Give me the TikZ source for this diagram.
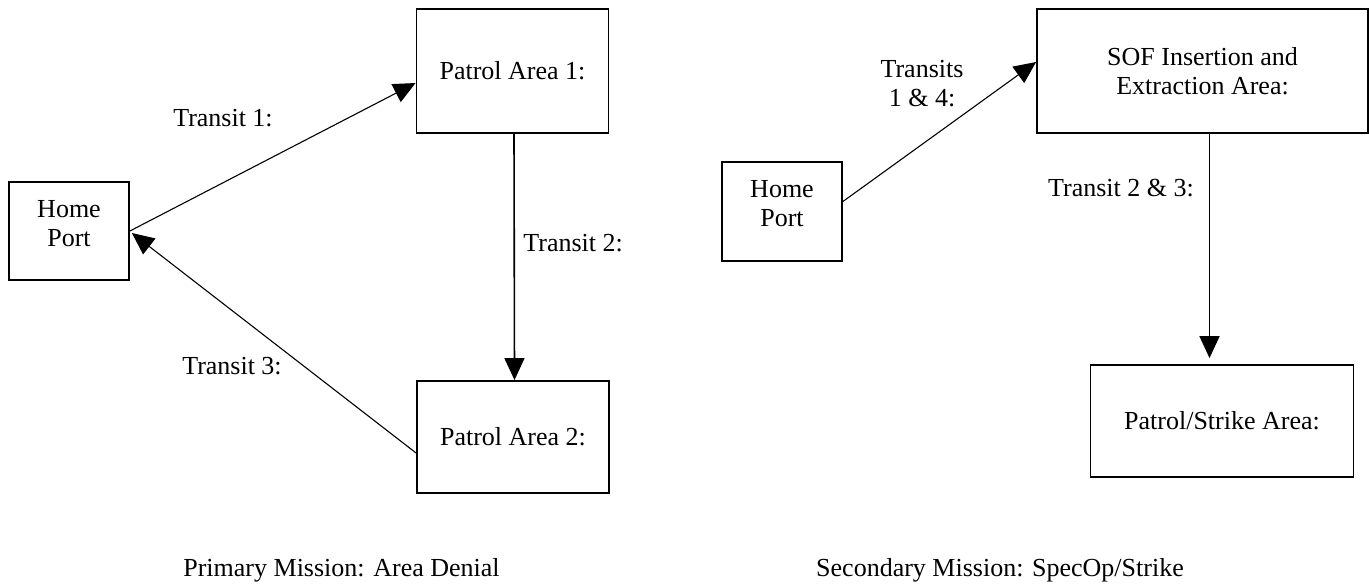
\documentclass[tikz,border=0pt]{standalone}
\usepackage{fontspec}
\setmainfont{Liberation Serif}
\usetikzlibrary{arrows.meta}

\begin{document}
\begin{tikzpicture}[x=0.5pt, y=-0.5pt,
  every node/.style={font=\fontsize{13}{14.5}\selectfont, inner sep=0pt},
  box/.style={draw, line width=0.9pt, rectangle, align=center},
  txt/.style={align=center},
  arr/.style={line width=0.55pt, -{Triangle[length=11pt, width=10pt]}},
  varr/.style={line width=0.8pt, -{Triangle[length=11pt, width=10pt]}}
]
\useasboundingbox (0,0) rectangle (1369,584);

% ---- Primary mission: area denial ----
\node[box, minimum width=60pt, minimum height=49pt] (hpL) at (69,231) {};
\node[txt] (hpLt) at (69,224) {Home\\Port};
\node[box, minimum width=96pt, minimum height=62pt] (pa1) at (512.5,71) {Patrol Area 1:};
\node[box, minimum width=96pt, minimum height=56pt] (pa2) at (513,437) {Patrol Area 2:};

\draw[arr] (hpL.east) -- ([yshift=-6pt]pa1.west);
\draw[varr] ([xshift=0.75pt]pa1.south) -- ([xshift=0.75pt]pa2.north);
\draw[arr] ([yshift=-8pt]pa2.west) -- ([xshift=1pt,yshift=-1pt]hpL.east);

\node[txt] (t1) at (223,118) {Transit 1:};
\node[txt, anchor=west] (t2) at (523,243) {Transit 2:};
\node[txt] (t3) at (232,366) {Transit 3:};

\node[txt] (cap1) at (341.5,570) {Primary Mission: Area Denial};

% ---- Secondary mission: special operations / strike ----
\node[box, minimum width=60pt, minimum height=49.5pt] (hpR) at (782,211.5) {};
\node[txt] (hpRt) at (782,204) {Home\\Port};
\node[box, minimum width=165.5pt, minimum height=62pt] (sof) at (1202.5,71) {SOF Insertion and\\Extraction Area:};
\node[box, minimum width=131.5pt, minimum height=56pt] (ps) at (1222,421) {Patrol/Strike Area:};

\draw[arr] ([yshift=5pt]hpR.east) -- ([yshift=4.5pt]sof.west);
\draw[varr, shorten >=3pt] ([xshift=3.5pt]sof.south) -- ([xshift=3.5pt]sof.south |- ps.north);

\node[txt] (t14) at (922,83.5) {Transits\\1 \& 4:};
\node[txt] (t23) at (1121,188) {Transit 2 \& 3:};

\node[txt] (cap2) at (1000,570) {Secondary Mission: SpecOp/Strike};
\end{tikzpicture}
\end{document}
